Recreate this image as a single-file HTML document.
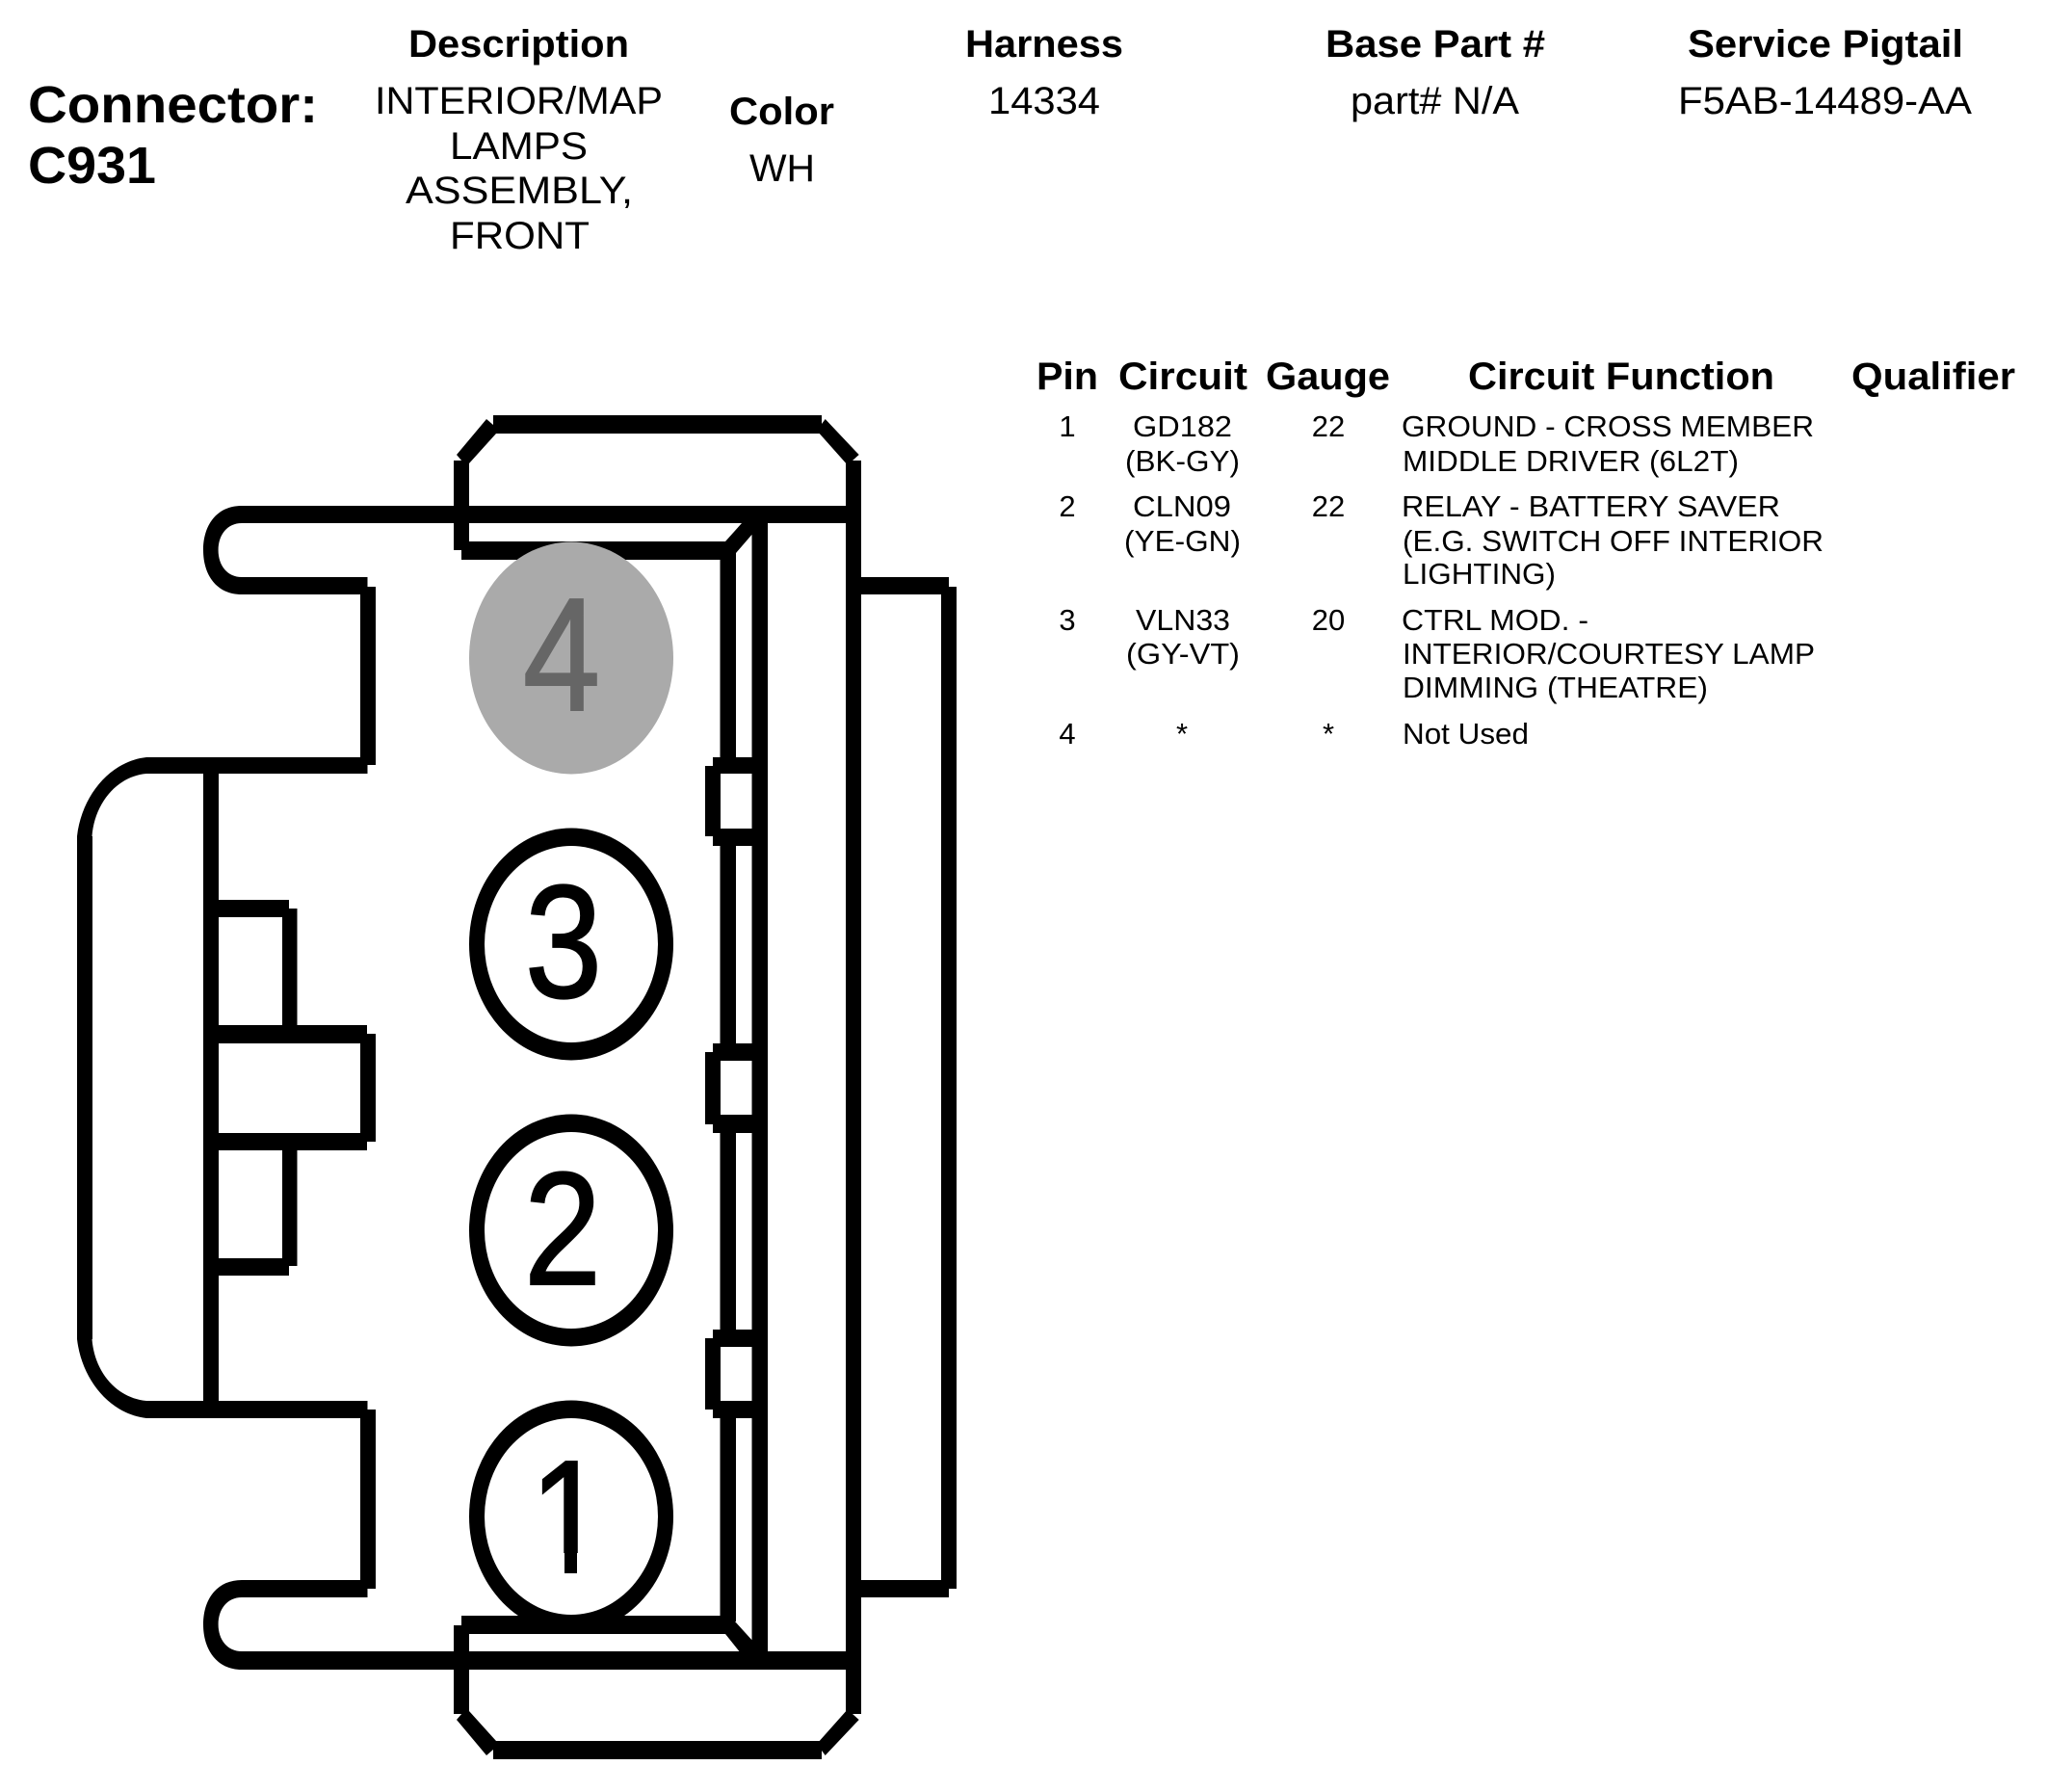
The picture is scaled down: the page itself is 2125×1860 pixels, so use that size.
<!DOCTYPE html>
<html><head><meta charset="utf-8"><title>Connector C931</title>
<style>
html,body{margin:0;padding:0;background:#fff}
svg{display:block}
text{font-family:"Liberation Sans",Arial,sans-serif;fill:#000}
.h{font-size:40px;font-weight:bold}
.b{font-size:40px}
.c{font-size:54px;font-weight:bold}
.r{font-size:31px}
.d{font-size:167px;stroke:#000;stroke-width:2}
</style></head><body>
<svg xmlns="http://www.w3.org/2000/svg" width="2125" height="1860" viewBox="0 0 2125 1860">
<rect width="2125" height="1860" fill="#fff"/>
<text class="c" x="29" y="127" textLength="301" lengthAdjust="spacingAndGlyphs">Connector:</text>
<text class="c" x="29" y="190" textLength="133" lengthAdjust="spacingAndGlyphs">C931</text>
<text class="h" x="424" y="59" textLength="229" lengthAdjust="spacingAndGlyphs">Description</text>
<text class="b" x="389" y="118" textLength="299" lengthAdjust="spacingAndGlyphs">INTERIOR/MAP</text>
<text class="b" x="467" y="165" textLength="143" lengthAdjust="spacingAndGlyphs">LAMPS</text>
<text class="b" x="421" y="211" textLength="236" lengthAdjust="spacingAndGlyphs">ASSEMBLY,</text>
<text class="b" x="467" y="258" textLength="145" lengthAdjust="spacingAndGlyphs">FRONT</text>
<text class="h" x="757" y="129" textLength="109" lengthAdjust="spacingAndGlyphs">Color</text>
<text class="b" x="778" y="188" textLength="68" lengthAdjust="spacingAndGlyphs">WH</text>
<text class="h" x="1002" y="59" textLength="164" lengthAdjust="spacingAndGlyphs">Harness</text>
<text class="b" x="1026" y="118" textLength="116" lengthAdjust="spacingAndGlyphs">14334</text>
<text class="h" x="1376" y="59" textLength="228" lengthAdjust="spacingAndGlyphs">Base Part #</text>
<text class="b" x="1402" y="118" textLength="175" lengthAdjust="spacingAndGlyphs">part# N/A</text>
<text class="h" x="1752" y="59" textLength="286" lengthAdjust="spacingAndGlyphs">Service Pigtail</text>
<text class="b" x="1742" y="118" textLength="305" lengthAdjust="spacingAndGlyphs">F5AB-14489-AA</text>

<text class="h" x="1076" y="404" textLength="64" lengthAdjust="spacingAndGlyphs">Pin</text>
<text class="h" x="1161" y="404" textLength="134" lengthAdjust="spacingAndGlyphs">Circuit</text>
<text class="h" x="1314" y="404" textLength="129" lengthAdjust="spacingAndGlyphs">Gauge</text>
<text class="h" x="1524" y="404" textLength="318" lengthAdjust="spacingAndGlyphs">Circuit Function</text>
<text class="h" x="1922" y="404" textLength="170" lengthAdjust="spacingAndGlyphs">Qualifier</text>

<text class="r" x="1108" y="453" text-anchor="middle">1</text>
<text class="r" x="1108" y="536" text-anchor="middle">2</text>
<text class="r" x="1108" y="654" text-anchor="middle">3</text>
<text class="r" x="1108" y="772" text-anchor="middle">4</text>
<text class="r" x="1176" y="453" textLength="103" lengthAdjust="spacingAndGlyphs">GD182</text>
<text class="r" x="1168" y="489" textLength="119" lengthAdjust="spacingAndGlyphs">(BK-GY)</text>
<text class="r" x="1176" y="536" textLength="102" lengthAdjust="spacingAndGlyphs">CLN09</text>
<text class="r" x="1167" y="572" textLength="121" lengthAdjust="spacingAndGlyphs">(YE-GN)</text>
<text class="r" x="1179" y="654" textLength="98" lengthAdjust="spacingAndGlyphs">VLN33</text>
<text class="r" x="1169" y="689" textLength="118" lengthAdjust="spacingAndGlyphs">(GY-VT)</text>
<text class="r" x="1227" y="772" text-anchor="middle">*</text>
<text class="r" x="1379" y="453" text-anchor="middle">22</text>
<text class="r" x="1379" y="536" text-anchor="middle">22</text>
<text class="r" x="1379" y="654" text-anchor="middle">20</text>
<text class="r" x="1379" y="772" text-anchor="middle">*</text>
<text class="r" x="1455" y="453" textLength="428" lengthAdjust="spacingAndGlyphs">GROUND - CROSS MEMBER</text>
<text class="r" x="1456" y="489" textLength="349" lengthAdjust="spacingAndGlyphs">MIDDLE DRIVER (6L2T)</text>
<text class="r" x="1455" y="536" textLength="393" lengthAdjust="spacingAndGlyphs">RELAY - BATTERY SAVER</text>
<text class="r" x="1456" y="572" textLength="437" lengthAdjust="spacingAndGlyphs">(E.G. SWITCH OFF INTERIOR</text>
<text class="r" x="1456" y="606" textLength="159" lengthAdjust="spacingAndGlyphs">LIGHTING)</text>
<text class="r" x="1455" y="654" textLength="194" lengthAdjust="spacingAndGlyphs">CTRL MOD. -</text>
<text class="r" x="1456" y="689" textLength="428" lengthAdjust="spacingAndGlyphs">INTERIOR/COURTESY LAMP</text>
<text class="r" x="1456" y="724" textLength="317" lengthAdjust="spacingAndGlyphs">DIMMING (THEATRE)</text>
<text class="r" x="1456" y="772" textLength="131" lengthAdjust="spacingAndGlyphs">Not Used</text>

<g fill="#000">
<ellipse cx="593" cy="980" rx="106" ry="120.5"/><ellipse cx="593" cy="980" rx="90" ry="102" fill="#fff"/>
<ellipse cx="593" cy="1277" rx="106" ry="120.5"/><ellipse cx="593" cy="1277" rx="90" ry="102" fill="#fff"/>
<ellipse cx="593" cy="1574" rx="106" ry="120.5"/><ellipse cx="593" cy="1574" rx="90" ry="102" fill="#fff"/>

<rect x="512" y="431" width="341" height="19"/>
<rect x="512" y="1807" width="341" height="19"/>
<polygon points="474,472 505,435 512,441 512,450 515,450 487,481 480,479"/>
<polygon points="891.7,472 856.7,435 853,440 853,450 850.7,450 878.3,481 885,478"/>
<polygon points="474,1785 505,1822 512,1816 512,1807 515,1807 487,1776 480,1778"/>
<polygon points="891.7,1785 856.7,1822 853,1817 853,1807 850.7,1807 878.3,1776 885,1779"/>
<rect x="471" y="478" width="16" height="93"/>
<rect x="471" y="1687" width="16" height="92"/>
<rect x="878" y="478" width="16" height="1301"/>
<rect x="251" y="525" width="628" height="18"/>
<rect x="251" y="1714" width="628" height="19"/>
<rect x="251" y="599" width="130.5" height="18"/>
<rect x="374" y="609" width="16" height="185"/>
<rect x="152" y="786" width="229.5" height="17"/>
<rect x="152" y="1454" width="229.5" height="18"/>
<rect x="374" y="1463" width="16" height="186"/>
<rect x="251" y="1640" width="130.5" height="18"/>
<path d="M251 525C225 525 211 545 211 571C211 597 225 617 251 617L251 599C236 599 226.6 587 226.6 571C226.6 555 236 543 251 543Z"/>
<path d="M251 1640C225 1640 211 1660 211 1686C211 1712 225 1733 251 1733L251 1714C236 1714 226.6 1702 226.6 1686C226.6 1670 236 1658 251 1658Z"/>
<path d="M152 786C115 790 85 825 80 868L95.5 868C98 835 120 806 152 803Z"/>
<path d="M152 1472C115 1468 85 1433 80 1390L95.5 1390C98 1423 120 1451 152 1454Z"/>
<rect x="80" y="868" width="16" height="522"/>
<rect x="211" y="795" width="16" height="668"/>
<rect x="226" y="934" width="74" height="18"/>
<rect x="293" y="943" width="15.5" height="121"/>
<rect x="226" y="1064" width="155" height="19"/>
<rect x="374" y="1073" width="16" height="112"/>
<rect x="226" y="1176" width="155" height="18"/>
<rect x="293" y="1194" width="15.5" height="120"/>
<rect x="226" y="1306" width="74" height="18"/>
<rect x="479" y="562" width="276" height="19"/>
<rect x="479" y="1677" width="276" height="19"/>
<polygon points="753,562 770,543 783,543 783,552 764,574 747.5,574"/>
<polygon points="753,1696 769,1716 783,1716 783,1705 763,1683 747.5,1683"/>
<rect x="747.5" y="574" width="16.5" height="212"/>
<rect x="747.5" y="878" width="16.5" height="205"/>
<rect x="747.5" y="1176" width="16.5" height="204"/>
<rect x="747.5" y="1472" width="16.5" height="211"/>
<rect x="780.5" y="543" width="16.5" height="1171"/>
<rect x="732" y="795" width="16" height="73"/>
<rect x="740" y="786" width="41" height="17"/>
<rect x="740" y="860" width="41" height="18"/>
<rect x="732" y="1092" width="16" height="75"/>
<rect x="740" y="1083" width="41" height="18"/>
<rect x="740" y="1157" width="41" height="19"/>
<rect x="732" y="1389" width="16" height="74"/>
<rect x="740" y="1380" width="41" height="18"/>
<rect x="740" y="1454" width="41" height="18"/>
<rect x="894" y="599" width="91" height="18"/>
<rect x="977" y="609" width="16" height="1040"/>
<rect x="894" y="1640" width="91" height="18"/>
<ellipse cx="593" cy="683" rx="106" ry="120.5" fill="#aaa"/>
</g>
<text class="d" transform="translate(583 737) scale(.865 1)" text-anchor="middle" style="fill:#666;stroke:#666">4</text>
<text class="d" transform="translate(585 1035) scale(.865 1)" text-anchor="middle">3</text>
<text class="d" transform="translate(584 1333) scale(.865 1)" text-anchor="middle">2</text>
<text class="d" transform="translate(590 1632) scale(.865 1)" text-anchor="middle">1</text>
<rect x="540" y="1612" width="46" height="24" fill="#fff"/>
<rect x="599" y="1612" width="45" height="24" fill="#fff"/>
</svg>
</body></html>
